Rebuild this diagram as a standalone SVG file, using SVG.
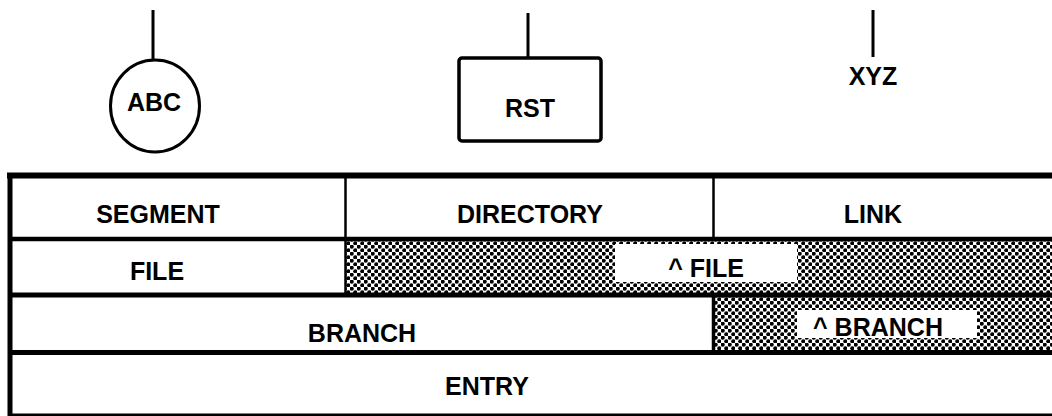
<svg xmlns="http://www.w3.org/2000/svg" width="1052" height="416" viewBox="0 0 1052 416">
<style>
.t{font-family:"Liberation Sans",Arial,sans-serif;font-weight:bold;font-size:25px;fill:#000;text-anchor:middle}
.ln{stroke:#000;fill:none}
</style>
<defs>
<pattern id="dots" width="7" height="7" patternUnits="userSpaceOnUse">
<rect width="7" height="7" fill="#fff"/>
<circle cx="1.75" cy="1.75" r="2.05" fill="#000"/>
<circle cx="5.25" cy="5.25" r="2.05" fill="#000"/>
</pattern>
</defs>
<rect width="1052" height="416" fill="#fff"/>
<g id="connectors">
<line class="ln" x1="153" y1="10" x2="153" y2="60" stroke-width="3"/>
<line class="ln" x1="528" y1="13" x2="528" y2="58" stroke-width="3"/>
<line class="ln" x1="873" y1="10" x2="873" y2="57" stroke-width="3"/>
</g>
<g id="abc">
<ellipse class="ln" cx="155" cy="106" rx="44.5" ry="46" stroke-width="3"/>
<text class="t" x="154" y="111">ABC</text>
</g>
<g id="rst">
<rect class="ln" x="459" y="58" width="142" height="83" rx="3" stroke-width="3.5"/>
<text class="t" x="530" y="117">RST</text>
</g>
<g id="xyz">
<text class="t" x="873" y="85">XYZ</text>
</g>
<g id="table">
<rect x="345" y="238" width="707" height="57" fill="url(#dots)"/>
<rect x="713" y="295" width="339" height="58" fill="url(#dots)"/>
<rect x="615" y="244" width="182" height="38" fill="#fff"/>
<rect x="797" y="310" width="180" height="28" fill="#fff"/>
<line class="ln" x1="7" y1="175.5" x2="1052" y2="175.5" stroke-width="6"/>
<line class="ln" x1="10" y1="173" x2="10" y2="416" stroke-width="5"/>
<line class="ln" x1="8" y1="239" x2="1052" y2="239" stroke-width="4.5"/>
<line class="ln" x1="8" y1="295" x2="1052" y2="295" stroke-width="5"/>
<line class="ln" x1="8" y1="352.5" x2="1052" y2="352.5" stroke-width="5"/>
<line class="ln" x1="8" y1="415" x2="1052" y2="415" stroke-width="3"/>
<line class="ln" x1="345.5" y1="176" x2="345.5" y2="295" stroke-width="2.5"/>
<line class="ln" x1="713.5" y1="176" x2="713.5" y2="239" stroke-width="2.5"/>
<line class="ln" x1="713.5" y1="295" x2="713.5" y2="353" stroke-width="3.5"/>
<text class="t" x="158" y="223">SEGMENT</text>
<text class="t" x="530" y="223">DIRECTORY</text>
<text class="t" x="873" y="223">LINK</text>
<text class="t" x="157" y="280">FILE</text>
<text class="t" x="706" y="277">^ FILE</text>
<text class="t" x="362" y="342">BRANCH</text>
<text class="t" x="878" y="336">^ BRANCH</text>
<text class="t" x="487" y="395">ENTRY</text>
</g>
</svg>
